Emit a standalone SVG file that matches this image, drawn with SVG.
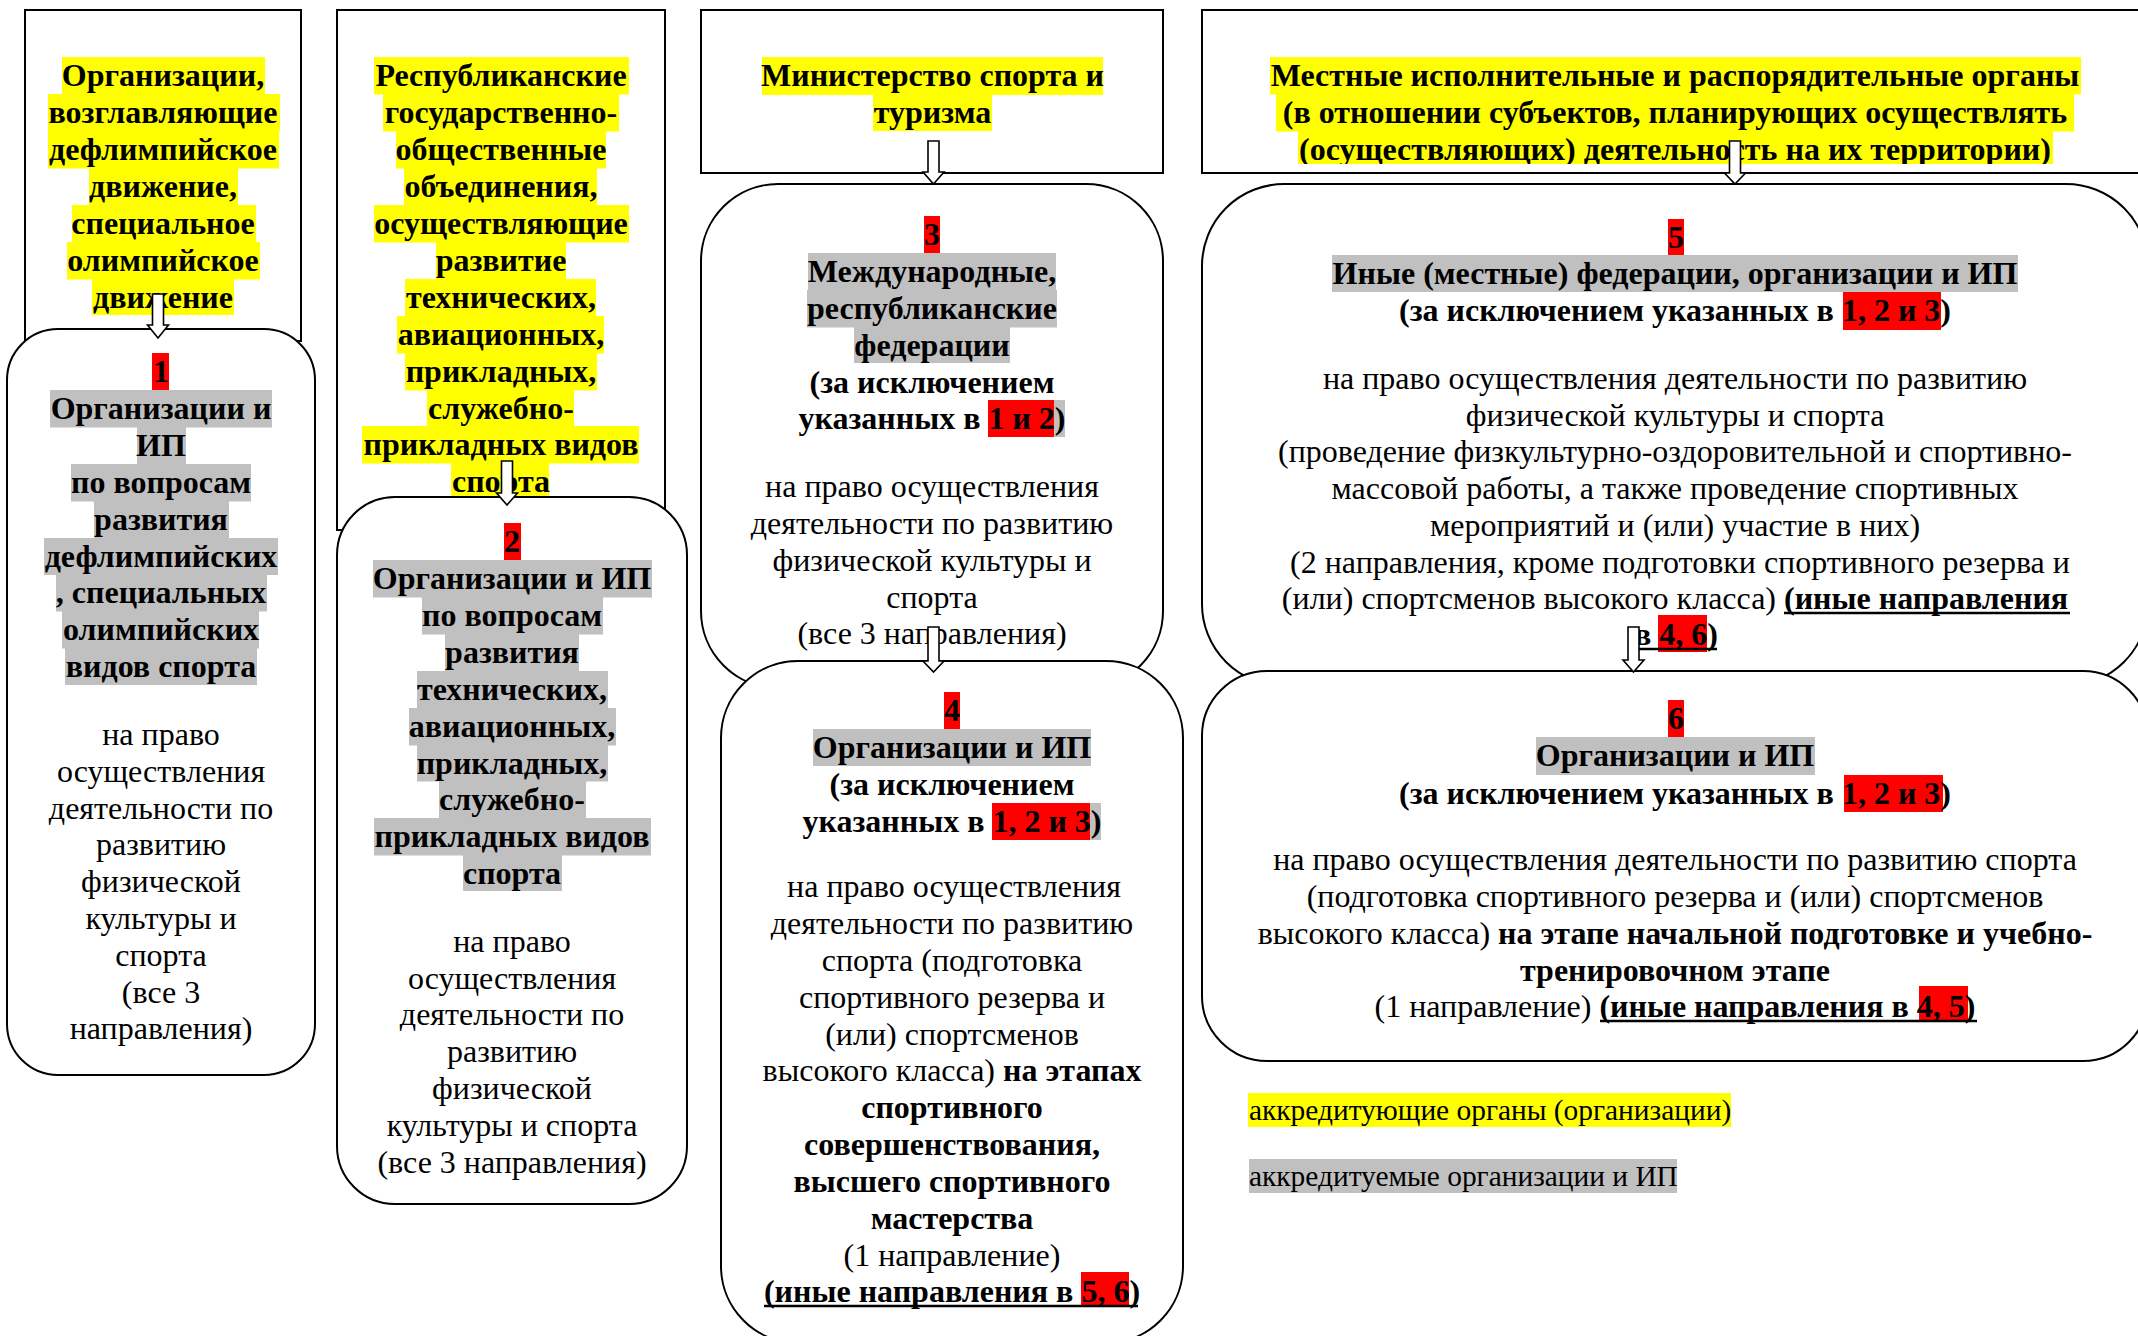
<svg xmlns="http://www.w3.org/2000/svg" width="2138" height="1336" viewBox="0 0 2138 1336" font-family="'Liberation Serif', Tinos, 'Times New Roman', serif">
<style>
text{font-family:"Liberation Serif",Tinos,"Times New Roman",serif;font-size:32px;fill:#000}
.b{font-weight:bold;text-anchor:middle}
.r{font-weight:normal;text-anchor:middle}
.bb{font-weight:bold}
.rr{font-weight:normal}
.lg{font-size:29.4px}
.box{fill:#fff;stroke:#000;stroke-width:2}
.y{fill:#ffff00}
.g{fill:#c0c0c0}
.red{fill:#ff0000}
.ul{stroke:#000;stroke-width:2.5}
.arr{fill:#fff;stroke:#000;stroke-width:1.6;stroke-linejoin:miter}
</style>
<defs>
<clipPath id="clipLocal"><rect x="1202" y="10" width="946" height="154"/></clipPath>
</defs>
<rect x="0" y="0" width="2138" height="1336" fill="#fff"/>

<g id="nodeA">
<rect class="box" x="25" y="10" width="276" height="331"/>
<rect class="y" x="62" y="57" width="203" height="37.5"/>
<rect class="y" x="48" y="94" width="232" height="37.5"/>
<rect class="y" x="48" y="131" width="231" height="37.5"/>
<rect class="y" x="89" y="168" width="149" height="37.5"/>
<rect class="y" x="72" y="205" width="184" height="37.5"/>
<rect class="y" x="67" y="242" width="193" height="37.5"/>
<rect class="y" x="92" y="279" width="142" height="36"/>
<text class="b" x="163" y="86">Организации,</text>
<text class="b" x="163" y="123">возглавляющие</text>
<text class="b" x="163" y="160">дефлимпийское</text>
<text class="b" x="163" y="197">движение,</text>
<text class="b" x="163" y="234">специальное</text>
<text class="b" x="163" y="271">олимпийское</text>
<text class="b" x="163" y="308">движение</text>
</g>

<g id="nodeB">
<rect class="box" x="337" y="10" width="328" height="520"/>
<rect class="y" x="374" y="57" width="255" height="37.5"/>
<rect class="y" x="383" y="94" width="236" height="37.5"/>
<rect class="y" x="396" y="131" width="210" height="37.5"/>
<rect class="y" x="404" y="168" width="193" height="37.5"/>
<rect class="y" x="374" y="205" width="255" height="37.5"/>
<rect class="y" x="436" y="242" width="130" height="37.5"/>
<rect class="y" x="405" y="279" width="191" height="37.5"/>
<rect class="y" x="397" y="316" width="207" height="37.5"/>
<rect class="y" x="405" y="353" width="192" height="37.5"/>
<rect class="y" x="427" y="390" width="147" height="37"/>
<rect class="y" x="362" y="426" width="277" height="37.5"/>
<rect class="y" x="451" y="463" width="98" height="35"/>
<text class="b" x="501" y="86">Республиканские</text>
<text class="b" x="501" y="123">государственно-</text>
<text class="b" x="501" y="160">общественные</text>
<text class="b" x="501" y="197">объединения,</text>
<text class="b" x="501" y="234">осуществляющие</text>
<text class="b" x="501" y="271">развитие</text>
<text class="b" x="501" y="308">технических,</text>
<text class="b" x="501" y="345">авиационных,</text>
<text class="b" x="501" y="382">прикладных,</text>
<text class="b" x="501" y="419">служебно-</text>
<text class="b" x="501" y="455">прикладных видов</text>
<text class="b" x="501" y="492">спорта</text>
</g>

<g id="node1">
<rect class="box" x="7" y="329" width="308" height="746" rx="51" ry="51"/>
<rect class="red" x="152" y="353" width="17" height="37"/>
<rect class="g" x="50" y="390" width="222" height="37.5"/>
<rect class="g" x="137" y="427" width="49" height="37.5"/>
<rect class="g" x="71" y="464" width="180" height="37.5"/>
<rect class="g" x="94" y="501" width="135" height="37.5"/>
<rect class="g" x="44" y="538" width="234" height="37"/>
<rect class="g" x="56" y="574" width="211" height="37.5"/>
<rect class="g" x="62" y="611" width="197" height="37.5"/>
<rect class="g" x="65" y="648" width="192" height="37"/>
<text class="b" x="161" y="382">1</text>
<text class="b" x="161" y="419">Организации и</text>
<text class="b" x="161" y="456">ИП</text>
<text class="b" x="161" y="493">по вопросам</text>
<text class="b" x="161" y="530">развития</text>
<text class="b" x="161" y="567">дефлимпийских</text>
<text class="b" x="161" y="603">, специальных</text>
<text class="b" x="161" y="640">олимпийских</text>
<text class="b" x="161" y="677">видов спорта</text>
<text class="r" x="161" y="745">на право</text>
<text class="r" x="161" y="782">осуществления</text>
<text class="r" x="161" y="819">деятельности по</text>
<text class="r" x="161" y="855">развитию</text>
<text class="r" x="161" y="892">физической</text>
<text class="r" x="161" y="929">культуры и</text>
<text class="r" x="161" y="966">спорта</text>
<text class="r" x="161" y="1003">(все 3</text>
<text class="r" x="161" y="1039">направления)</text>
</g>

<g id="node2">
<rect class="box" x="337" y="497" width="350" height="707" rx="58" ry="58"/>
<rect class="red" x="504" y="523" width="17" height="37"/>
<rect class="g" x="373" y="560" width="279" height="37.5"/>
<rect class="g" x="422" y="597" width="181" height="37.5"/>
<rect class="g" x="445" y="634" width="134" height="37.5"/>
<rect class="g" x="417" y="671" width="191" height="37.5"/>
<rect class="g" x="409" y="708" width="207" height="37.5"/>
<rect class="g" x="417" y="745" width="191" height="36.5"/>
<rect class="g" x="439" y="781" width="147" height="37.5"/>
<rect class="g" x="374" y="818" width="277" height="37.5"/>
<rect class="g" x="463" y="855" width="99" height="36"/>
<text class="b" x="512" y="552">2</text>
<text class="b" x="512" y="589">Организации и ИП</text>
<text class="b" x="512" y="626">по вопросам</text>
<text class="b" x="512" y="663">развития</text>
<text class="b" x="512" y="700">технических,</text>
<text class="b" x="512" y="737">авиационных,</text>
<text class="b" x="512" y="774">прикладных,</text>
<text class="b" x="512" y="810">служебно-</text>
<text class="b" x="512" y="847">прикладных видов</text>
<text class="b" x="512" y="884">спорта</text>
<text class="r" x="512" y="952">на право</text>
<text class="r" x="512" y="989">осуществления</text>
<text class="r" x="512" y="1025">деятельности по</text>
<text class="r" x="512" y="1062">развитию</text>
<text class="r" x="512" y="1099">физической</text>
<text class="r" x="512" y="1136">культуры и спорта</text>
<text class="r" x="512" y="1173">(все 3 направления)</text>
</g>

<g id="nodeMinistry">
<rect class="box" x="701" y="10" width="462" height="163"/>
<rect class="y" x="762" y="57" width="341" height="38"/>
<rect class="y" x="873" y="95" width="119" height="36"/>
<text class="b" x="932.5" y="86">Министерство спорта и</text>
<text class="b" x="932.5" y="123">туризма</text>
</g>

<g id="node3">
<rect class="box" x="701" y="184" width="462" height="504" rx="77" ry="77"/>
<rect class="red" x="924" y="216" width="16" height="37"/>
<rect class="g" x="808" y="253" width="248" height="37.5"/>
<rect class="g" x="807" y="290" width="250" height="37.5"/>
<rect class="g" x="854" y="327" width="156" height="36"/>
<rect class="red" x="988" y="400" width="66" height="37"/>
<rect class="g" x="1054" y="400" width="11" height="37"/>
<text class="b" x="932" y="245">3</text>
<text class="b" x="932" y="282">Международные,</text>
<text class="b" x="932" y="319">республиканские</text>
<text class="b" x="932" y="356">федерации</text>
<text class="b" x="932" y="393">(за исключением</text>
<text class="b" x="932" y="429">указанных в 1 и 2)</text>
<text class="r" x="932" y="497">на право осуществления</text>
<text class="r" x="932" y="534">деятельности по развитию</text>
<text class="r" x="932" y="571">физической культуры и</text>
<text class="r" x="932" y="608">спорта</text>
<text class="r" x="932" y="644">(все 3 направления)</text>
</g>

<g id="node4">
<rect class="box" x="721" y="661" width="462" height="682" rx="77" ry="77"/>
<rect class="red" x="944" y="692" width="16" height="37"/>
<rect class="g" x="813" y="729" width="278" height="37"/>
<rect class="red" x="992" y="803" width="98" height="37"/>
<rect class="g" x="1090" y="803" width="11" height="37"/>
<rect class="red" x="1081" y="1272" width="48" height="35"/>
<text class="b" x="952" y="721">4</text>
<text class="b" x="952" y="758">Организации и ИП</text>
<text class="b" x="952" y="795">(за исключением</text>
<text class="b" x="952" y="832">указанных в 1, 2 и 3)</text>
<text class="r" x="954" y="897">на право осуществления</text>
<text class="r" x="952" y="934">деятельности по развитию</text>
<text class="r" x="952" y="971">спорта (подготовка</text>
<text class="r" x="952" y="1008">спортивного резерва и</text>
<text class="r" x="952" y="1045">(или) спортсменов</text>
<text class="r" x="952" y="1081">высокого класса)<tspan class="bb"> на этапах</tspan></text>
<text class="b" x="952" y="1118">спортивного</text>
<text class="b" x="952" y="1155">совершенствования,</text>
<text class="b" x="952" y="1192">высшего спортивного</text>
<text class="b" x="952" y="1229">мастерства</text>
<text class="r" x="952" y="1266">(1 направление)</text>
<text class="b" x="952" y="1302">(иные направления в 5, 6)</text>
<line class="ul" x1="764" y1="1306" x2="1138" y2="1306"/>
</g>

<g id="nodeLocal">
<rect class="box" x="1202" y="10" width="946" height="163"/>
<g clip-path="url(#clipLocal)">
<rect class="y" x="1270" y="57" width="811" height="37.5"/>
<rect class="y" x="1276" y="94" width="798" height="37.5"/>
<rect class="y" x="1298" y="131" width="755" height="37"/>
<text class="b" x="1675" y="86">Местные исполнительные и распорядительные органы</text>
<text class="b" x="1675" y="123">(в отношении субъектов, планирующих осуществлять</text>
<text class="b" x="1675" y="160">(осуществляющих) деятельность на их территории)</text>
</g>
</g>

<g id="node5">
<rect class="box" x="1202" y="184" width="946" height="502" rx="82" ry="82"/>
<rect class="red" x="1668" y="219" width="16" height="36"/>
<rect class="g" x="1332" y="255" width="686" height="37"/>
<rect class="red" x="1843" y="292" width="98" height="38"/>
<rect class="red" x="1658" y="615" width="49" height="37"/>
<text class="b" x="1676" y="248">5</text>
<text class="b" x="1675" y="284">Иные (местные) федерации, организации и ИП</text>
<text class="b" x="1675" y="321">(за исключением указанных в 1, 2 и 3)</text>
<text class="r" x="1675" y="389">на право осуществления деятельности по развитию</text>
<text class="r" x="1675" y="426">физической культуры и спорта</text>
<text class="r" x="1675" y="462">(проведение физкультурно-оздоровительной и спортивно-</text>
<text class="r" x="1675" y="499">массовой работы, а также проведение спортивных</text>
<text class="r" x="1675" y="536">мероприятий и (или) участие в них)</text>
<text class="r" x="1680" y="573">(2 направления, кроме подготовки спортивного резерва и</text>
<text class="r" x="1675" y="609">(или) спортсменов высокого класса) <tspan class="bb">(иные направления</tspan></text>
<text class="b" x="1676" y="645">в 4, 6)</text>
<line class="ul" x1="1784" y1="613" x2="2070" y2="613"/>
<line class="ul" x1="1637" y1="649" x2="1717" y2="649"/>
</g>

<g id="node6">
<rect class="box" x="1202" y="671" width="946" height="390" rx="65" ry="65"/>
<rect class="red" x="1668" y="700" width="16" height="37"/>
<rect class="g" x="1536" y="737" width="279" height="38"/>
<rect class="red" x="1844" y="775" width="99" height="37"/>
<rect class="red" x="1919" y="986" width="49" height="34"/>
<text class="b" x="1676" y="729">6</text>
<text class="b" x="1675" y="766">Организации и ИП</text>
<text class="b" x="1675" y="804">(за исключением указанных в 1, 2 и 3)</text>
<text class="r" x="1675" y="870">на право осуществления деятельности по развитию спорта</text>
<text class="r" x="1675" y="907">(подготовка спортивного резерва и (или) спортсменов</text>
<text class="r" x="1675" y="944">высокого класса) <tspan class="bb">на этапе начальной подготовке и учебно-</tspan></text>
<text class="b" x="1675" y="981">тренировочном этапе</text>
<text class="r" x="1675" y="1017">(1 направление) <tspan class="bb">(иные направления в 4, 5)</tspan></text>
<line class="ul" x1="1600" y1="1021" x2="1977" y2="1021"/>
</g>

<g id="legend">
<rect class="y" x="1248" y="1093" width="483" height="34"/>
<rect class="g" x="1249" y="1159" width="428" height="34"/>
<text class="rr lg" x="1249" y="1120">аккредитующие органы (организации)</text>
<text class="rr lg" x="1249" y="1186">аккредитуемые организации и ИП</text>
</g>

<g id="connectors">
<polygon class="arr" points="152.5,294 163.5,294 163.5,325 168.5,325 158,338 147.5,325 152.5,325"/>
<polygon class="arr" points="501.5,461 512.5,461 512.5,493 517.5,493 507,505 496.5,493 501.5,493"/>
<polygon class="arr" points="928,141 939,141 939,172 944,172 933.5,184 923,172 928,172"/>
<polygon class="arr" points="928,627 939,627 939,661 944,661 933.5,672 923,661 928,661"/>
<polygon class="arr" points="1729.5,141 1740.5,141 1740.5,173 1745.5,173 1735,184 1724.5,173 1729.5,173"/>
<polygon class="arr" points="1628,627 1639,627 1639,660 1644,660 1633.5,672 1623,660 1628,660"/>
</g>
</svg>
